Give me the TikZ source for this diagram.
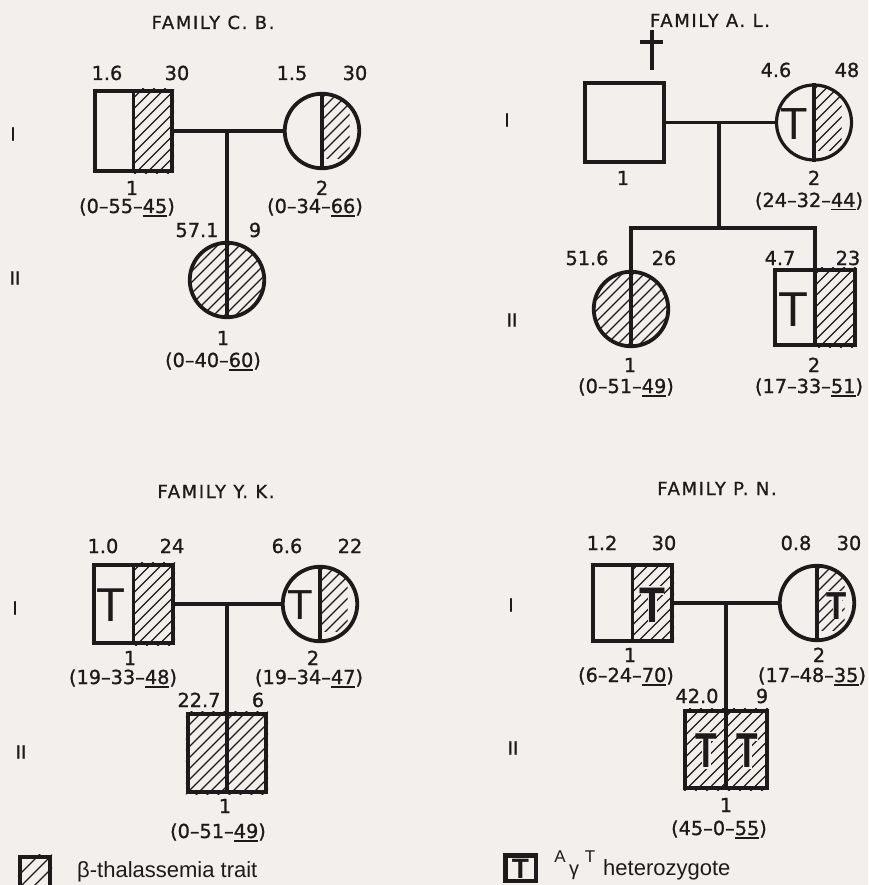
\documentclass[tikz,border=0pt]{standalone}
\usepackage{fontspec}
\usetikzlibrary{calc}
\setmainfont{DejaVu Sans}
\newfontfamily\lblfont[FakeBold=1]{DejaVu Sans}
\newfontfamily\titlefont[LetterSpace=9,FakeBold=0.8]{DejaVu Sans}
\newfontfamily\legfont{Liberation Sans}
\newfontfamily\tfont{Liberation Sans}
\definecolor{bg}{RGB}{243,239,236}
\definecolor{ink}{RGB}{28,26,26}
\newcommand\ul[1]{\setbox0\hbox{#1}\rlap{\rule[-3.5pt]{\wd0}{1.4pt}}\box0}
\newcommand\hatchat[1]{\begin{scope}[shift={(#1)}]\foreach \k in {-99,-88,...,99} {\draw[hatchl] (\k-60,60) -- (\k+60,-60);}\end{scope}}
\tikzset{
  sq/.style={draw=ink, line width=3.8pt, rectangle, inner sep=0pt},
  circ/.style={draw=ink, line width=3.8pt, circle, inner sep=0pt, minimum size=74.5pt},
  conn/.style={draw=ink, line width=3.5pt},
  divl/.style={draw=ink, line width=3.8pt},
  hatchl/.style={draw=ink, line width=1.1pt},
  lbl/.style={text=ink, font=\lblfont\fontsize{19.3}{22}\selectfont, anchor=base, inner sep=0pt},
  ttl/.style={text=ink, font=\titlefont\fontsize{18}{21}\selectfont, anchor=base, inner sep=0pt},
  gen/.style={text=ink, font=\lblfont\fontsize{18}{21}\selectfont, inner sep=0pt},
  tmark/.style={text=ink, font=\tfont\fontsize{#1}{#1}\selectfont, inner sep=0pt},
  tbold/.style={text=ink, font=\tfont\bfseries\fontsize{#1}{#1}\selectfont, inner sep=0pt},
  halo/.style={draw=bg, line width=9pt},
}
\begin{document}
\begin{tikzpicture}[x=1pt,y=-1pt]
\fill[bg] (0,0) rectangle (868,885);
\useasboundingbox (0,0) rectangle (868,885);

% ================= FAMILY C. B. =================
\node[ttl] (cbt) at (213,29) {FAMILY C. B.};
\node[gen] (cbg1) at (13,134) {I};
\node[gen] (cbg2) at (15,278) {II};
\node[sq, minimum width=77.5pt, minimum height=80.5pt] (cb1) at (133.5,131) {};
\node[circ] (cb2) at (322,131) {};
\node[circ] (cb3) at (227,280) {};
\begin{scope}\clip (cb1.north) rectangle (cb1.south east); \hatchat{cb1} \end{scope}
\begin{scope}\clip (cb2) circle (37.25pt); \clip (cb2.north) rectangle (cb2.south east); \hatchat{cb2} \end{scope}
\begin{scope}\clip (cb3) circle (37.25pt); \hatchat{cb3} \end{scope}
\draw[divl] (cb1.north) -- (cb1.south);
\draw[divl] (cb2.north) -- (cb2.south);
\draw[divl] (cb3.north) -- (cb3.south);
\coordinate (cbm) at (227,131);
\draw[conn] (cb1.east) -- (cb2.west);
\draw[conn] (cbm) -- (cb3.north);
\node[lbl] (cbl1a) at (107,80) {1.6};
\node[lbl] (cbl1b) at (177,80) {30};
\node[lbl] (cbl2a) at (292,80) {1.5};
\node[lbl] (cbl2b) at (355,80) {30};
\node[lbl] (cbn1) at (132,195) {1};
\node[lbl] (cbv1) at (127,213) {(0–55–\ul{45})};
\node[lbl] (cbn2) at (322,195) {2};
\node[lbl] (cbv2) at (315,213) {(0–34–\ul{66})};
\node[lbl] (cbl3a) at (197,237) {57.1};
\node[lbl] (cbl3b) at (255,237) {9};
\node[lbl] (cbn3) at (223,345) {1};
\node[lbl] (cbv3) at (213,367) {(0–40–\ul{60})};

% ================= FAMILY A. L. =================
\node[ttl] (alt) at (710,27) {FAMILY A. L.};
\node[gen] (alg1) at (507,120) {I};
\node[gen] (alg2) at (512,320) {II};
\draw[conn] (652,30) -- (652,70);
\draw[conn] (640,42) -- (663,42);
\node[sq, minimum width=79.5pt, minimum height=78.5pt] (al1) at (624.5,122.5) {};
\node[circ, line width=3.2pt, minimum size=75pt] (al2) at (814,122.5) {};
\node[circ] (al3) at (631,309) {};
\node[sq, minimum width=79.5pt, minimum height=75.5pt] (al4) at (815,307.5) {};
\begin{scope}\clip (al2) circle (37.5pt); \clip (al2.north) rectangle (al2.south east); \hatchat{al2} \end{scope}
\begin{scope}\clip (al3) circle (37.25pt); \hatchat{al3} \end{scope}
\begin{scope}\clip (al4.north) rectangle (al4.south east); \hatchat{al4} \end{scope}
\draw[divl] (al2.north) -- (al2.south);
\draw[divl] (al3.north) -- (al3.south);
\draw[divl] (al4.north) -- (al4.south);
\node[tmark=45] (alT2) at (794.5,124) {T};
\node[tmark=49] (alT4) at (793,310) {T};
\coordinate (alm) at (719,122.5);
\coordinate (als) at (719,228);
\draw[conn] (al1.east) -- (al2.west);
\draw[conn] (alm) -- (als);
\draw[conn] (al3.north) |- (als) -| (al4.north);
\node[lbl] (all2a) at (776,77) {4.6};
\node[lbl] (all2b) at (847,77) {48};
\node[lbl] (aln1) at (623,185) {1};
\node[lbl] (aln2) at (814,185) {2};
\node[lbl] (alv2) at (809,207) {(24–32–\ul{44})};
\node[lbl] (all3a) at (587,265) {51.6};
\node[lbl] (all3b) at (664,265) {26};
\node[lbl] (all4a) at (780,265) {4.7};
\node[lbl] (all4b) at (848,265) {23};
\node[lbl] (aln3) at (630,372) {1};
\node[lbl] (alv3) at (626,393) {(0–51–\ul{49})};
\node[lbl] (aln4) at (814,372) {2};
\node[lbl] (alv4) at (809,393) {(17–33–\ul{51})};

% ================= FAMILY Y. K. =================
\node[ttl] (ykt) at (216,498) {FAMILY Y. K.};
\node[gen] (ykg1) at (15,608) {I};
\node[gen] (ykg2) at (21,752) {II};
\node[sq, minimum width=79.5pt, minimum height=78.5pt] (yk1) at (133.5,604) {};
\node[circ] (yk2) at (320,604) {};
\node[sq, minimum width=78.5pt, minimum height=78.5pt] (yk3) at (227,753) {};
\begin{scope}\clip (yk1.north) rectangle (yk1.south east); \hatchat{yk1} \end{scope}
\begin{scope}\clip (yk2) circle (37.25pt); \clip (yk2.north) rectangle (yk2.south east); \hatchat{yk2} \end{scope}
\begin{scope}\clip (yk3.north west) rectangle (yk3.south east); \hatchat{yk3} \end{scope}
\draw[divl] (yk1.north) -- (yk1.south);
\draw[divl] (yk2.north) -- (yk2.south);
\draw[divl] (yk3.north) -- (yk3.south);
\node[tmark=47.5] (ykT1) at (111,605) {T};
\node[tmark=42] (ykT2) at (300.5,605) {T};
\coordinate (ykm) at (227,604);
\draw[conn] (yk1.east) -- (yk2.west);
\draw[conn] (ykm) -- (yk3.north);
\node[lbl] (ykl1a) at (103,553) {1.0};
\node[lbl] (ykl1b) at (172,553) {24};
\node[lbl] (ykl2a) at (287,553) {6.6};
\node[lbl] (ykl2b) at (350,553) {22};
\node[lbl] (ykn1) at (130,665) {1};
\node[lbl] (ykv1) at (123,684) {(19–33–\ul{48})};
\node[lbl] (ykn2) at (313,665) {2};
\node[lbl] (ykv2) at (309,684) {(19–34–\ul{47})};
\node[lbl] (ykl3a) at (199,707) {22.7};
\node[lbl] (ykl3b) at (258,707) {6};
\node[lbl] (ykn3) at (225,813) {1};
\node[lbl] (ykv3) at (218,838) {(0–51–\ul{49})};

% ================= FAMILY P. N. =================
\node[ttl] (pnt) at (717,495) {FAMILY P. N.};
\node[gen] (png1) at (511,605) {I};
\node[gen] (png2) at (513,748) {II};
\node[sq, minimum width=79.5pt, minimum height=75.5pt] (pn1) at (632.5,603) {};
\node[circ] (pn2) at (817,603) {};
\node[sq, minimum width=81.5pt, minimum height=77.5pt] (pn3) at (726,749.5) {};
\begin{scope}\clip (pn1.north) rectangle (pn1.south east); \hatchat{pn1} \end{scope}
\begin{scope}\clip (pn2) circle (37.25pt); \clip (pn2.north) rectangle (pn2.south east); \hatchat{pn2} \end{scope}
\begin{scope}\clip (pn3.north west) rectangle (pn3.south east); \hatchat{pn3} \end{scope}
\draw[divl] (pn1.north) -- (pn1.south);
\draw[divl] (pn2.north) -- (pn2.south);
\draw[divl] (pn3.north) -- (pn3.south);
% white halos behind the bold T marks
\draw[halo] (641,590) -- (664,590) (652.5,590) -- (652.5,622);
\draw[halo] (827,595) -- (847,595) (837,595) -- (837,619);
\draw[halo] (696,736) -- (716,736) (706,736) -- (706,769);
\draw[halo] (737.5,736) -- (757.5,736) (747.5,736) -- (747.5,769);
\node[tbold=50, xscale=0.85] (pnT1) at (652.5,605) {T};
\node[tbold=39, xscale=0.85] (pnT2) at (837,606) {T};
\node[tbold=49, xscale=0.72] (pnT3a) at (706,751) {T};
\node[tbold=49, xscale=0.72] (pnT3b) at (747.5,751) {T};
\coordinate (pnm) at (726,603);
\draw[conn] (pn1.east) -- (pn2.west);
\draw[conn] (pnm) -- (pn3.north);
\node[lbl] (pnl1a) at (602,550) {1.2};
\node[lbl] (pnl1b) at (664,550) {30};
\node[lbl] (pnl2a) at (796,550) {0.8};
\node[lbl] (pnl2b) at (849,550) {30};
\node[lbl] (pnn1) at (630,662) {1};
\node[lbl] (pnv1) at (626,682) {(6–24–\ul{70})};
\node[lbl] (pnn2) at (819,662) {2};
\node[lbl] (pnv2) at (812,682) {(17–48–\ul{35})};
\node[lbl] (pnl3a) at (697,703) {42.0};
\node[lbl] (pnl3b) at (762,703) {9};
\node[lbl] (pnn3) at (726,812) {1};
\node[lbl] (pnv3) at (719,835) {(45–0–\ul{55})};

% ================= LEGEND =================
\node[sq, minimum width=30.5pt, minimum height=30.5pt] (leg1) at (35,872) {};
\begin{scope}\clip (leg1.north west) rectangle (leg1.south east);
  \foreach \k in {-13,0,13} {\draw[hatchl] ($(leg1)+(\k-25,25)$) -- ($(leg1)+(\k+25,-25)$);}
\end{scope}
\node[text=ink, font=\legfont\fontsize{22}{24}\selectfont, anchor=base west, inner sep=0pt] (leg1t) at (77,877) {β-thalassemia trait};
\node[sq, line width=4.5pt, minimum width=30.5pt, minimum height=25.5pt] (leg2) at (520.5,868) {};
\node[tbold=28] (leg2T) at (520.5,868.5) {T};
\node[text=ink, font=\legfont\fontsize{17}{19}\selectfont, anchor=base, inner sep=0pt] (legA) at (560,862) {A};
\node[text=ink, font=\legfont\fontsize{20}{22}\selectfont, anchor=base, inner sep=0pt] (legg) at (574,875) {γ};
\node[text=ink, font=\legfont\fontsize{17}{19}\selectfont, anchor=base, inner sep=0pt] (legT) at (590,862) {T};
\node[text=ink, font=\legfont\fontsize{22}{24}\selectfont, anchor=base west, inner sep=0pt] (leg2t) at (603,875) {heterozygote};
\end{tikzpicture}
\end{document}
